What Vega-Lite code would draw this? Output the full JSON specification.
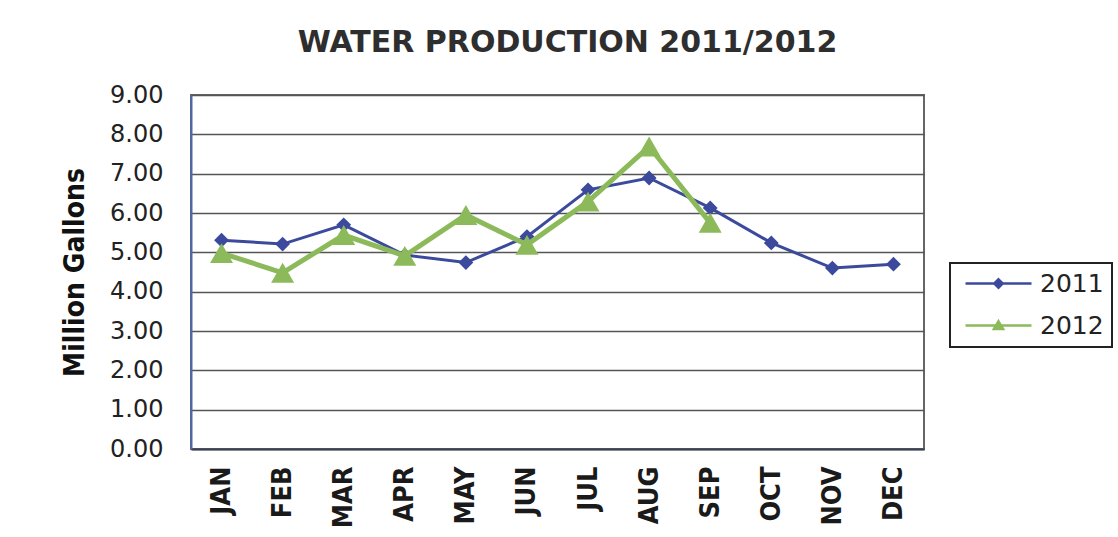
{
  "$schema": "https://vega.github.io/schema/vega-lite/v6.json",
  "width": 733,
  "height": 354,
  "autosize": {"type": "none"},
  "padding": {"left": 191, "top": 95, "right": 194, "bottom": 88},
  "background": "white",
  "title": {
    "text": "WATER PRODUCTION 2011/2012",
    "font": "DejaVu Sans",
    "fontSize": 30,
    "fontWeight": "bold",
    "color": "#2e2e2e",
    "anchor": "middle",
    "frame": "group",
    "baseline": "alphabetic",
    "offset": 42,
    "dx": 10,
    "dy": 41
  },
  "config": {
    "view": {"stroke": "#666666", "strokeWidth": 2},
    "axis": {"ticks": false}
  },
  "data": {
    "values": [
      {"month": "JAN", "year": "2011", "value": 5.31},
      {"month": "FEB", "year": "2011", "value": 5.21},
      {"month": "MAR", "year": "2011", "value": 5.70},
      {"month": "APR", "year": "2011", "value": 4.93},
      {"month": "MAY", "year": "2011", "value": 4.74},
      {"month": "JUN", "year": "2011", "value": 5.40},
      {"month": "JUL", "year": "2011", "value": 6.59},
      {"month": "AUG", "year": "2011", "value": 6.89},
      {"month": "SEP", "year": "2011", "value": 6.13},
      {"month": "OCT", "year": "2011", "value": 5.24},
      {"month": "NOV", "year": "2011", "value": 4.60},
      {"month": "DEC", "year": "2011", "value": 4.70},
      {"month": "JAN", "year": "2012", "value": 4.98},
      {"month": "FEB", "year": "2012", "value": 4.48},
      {"month": "MAR", "year": "2012", "value": 5.44},
      {"month": "APR", "year": "2012", "value": 4.91},
      {"month": "MAY", "year": "2012", "value": 5.95},
      {"month": "JUN", "year": "2012", "value": 5.19},
      {"month": "JUL", "year": "2012", "value": 6.29},
      {"month": "AUG", "year": "2012", "value": 7.69},
      {"month": "SEP", "year": "2012", "value": 5.75}
    ]
  },
  "encoding": {
    "x": {
      "field": "month",
      "type": "ordinal",
      "sort": ["JAN", "FEB", "MAR", "APR", "MAY", "JUN", "JUL", "AUG", "SEP", "OCT", "NOV", "DEC"],
      "scale": {"type": "point", "padding": 0.5},
      "axis": {
        "title": null,
        "labelAngle": 270,
        "labelFont": "Liberation Sans Narrow, DejaVu Sans Condensed, Arial Narrow, sans-serif",
        "labelFontSize": 27,
        "labelFontWeight": "bold",
        "labelColor": "#1a1a1a",
        "labelPadding": 17,
        "domainColor": "#3a3f55",
        "domainWidth": 2,
        "grid": false
      }
    },
    "y": {
      "field": "value",
      "type": "quantitative",
      "scale": {"domain": [0, 9], "nice": false},
      "axis": {
        "title": "Million Gallons",
        "titleFont": "Liberation Sans Narrow, DejaVu Sans Condensed, Arial Narrow, sans-serif",
        "titleFontSize": 28,
        "titleFontWeight": "bold",
        "titleColor": "#111111",
        "titlePadding": 20,
        "values": [0, 1, 2, 3, 4, 5, 6, 7, 8, 9],
        "format": ".2f",
        "labelFont": "DejaVu Sans",
        "labelFontSize": 24,
        "labelColor": "#222222",
        "labelPadding": 28,
        "domainColor": "#4a68ad",
        "domainWidth": 2,
        "gridColor": "#555555",
        "gridWidth": 1.5
      }
    },
    "stroke": {
      "field": "year",
      "type": "nominal",
      "scale": {"domain": ["2011", "2012"], "range": ["#3b4a9c", "#8cba5a"]},
      "legend": {
        "title": null,
        "orient": "none",
        "legendX": 759,
        "legendY": 168,
        "strokeColor": "#222222",
        "fillColor": "white",
        "padding": 8,
        "rowPadding": 16,
        "labelFont": "DejaVu Sans",
        "labelFontSize": 25,
        "labelColor": "#222222",
        "labelOffset": 57,
        "symbolSize": 400,
        "symbolStrokeWidth": 2.5,
        "symbolType": "M-0.5,0L6.1,0",
        "encode": {
          "symbols": {
            "update": {
              "shape": {"signal": "datum.value === '2011' ? 'M-0.5,0L6.1,0M2.8,-0.42L3.22,0L2.8,0.42L2.38,0Z' : 'M-0.5,0L6.1,0M2.8,-0.42L3.26,0.36L2.34,0.36Z'"},
              "fill": {"scale": "stroke", "field": "value"},
              "fillOpacity": {"value": 1},
              "opacity": {"value": 1}
            }
          },
          "legend": {
            "update": {"strokeWidth": {"value": 2}}
          }
        }
      }
    }
  },
  "layer": [
    {
      "transform": [{"filter": "datum.year === '2011'"}],
      "mark": {"type": "line", "strokeJoin": "miter", "strokeWidth": 3}
    },
    {
      "transform": [{"filter": "datum.year === '2011'"}],
      "mark": {"type": "point", "filled": true, "opacity": 1, "shape": "diamond", "size": 220, "fill": "#3b4a9c", "strokeWidth": 0}
    },
    {
      "transform": [{"filter": "datum.year === '2012'"}],
      "mark": {"type": "line", "strokeJoin": "miter", "strokeWidth": 5}
    },
    {
      "transform": [{"filter": "datum.year === '2012'"}],
      "mark": {"type": "point", "filled": true, "opacity": 1, "shape": "triangle-up", "size": 529, "fill": "#8cba5a", "strokeWidth": 0}
    }
  ]
}
